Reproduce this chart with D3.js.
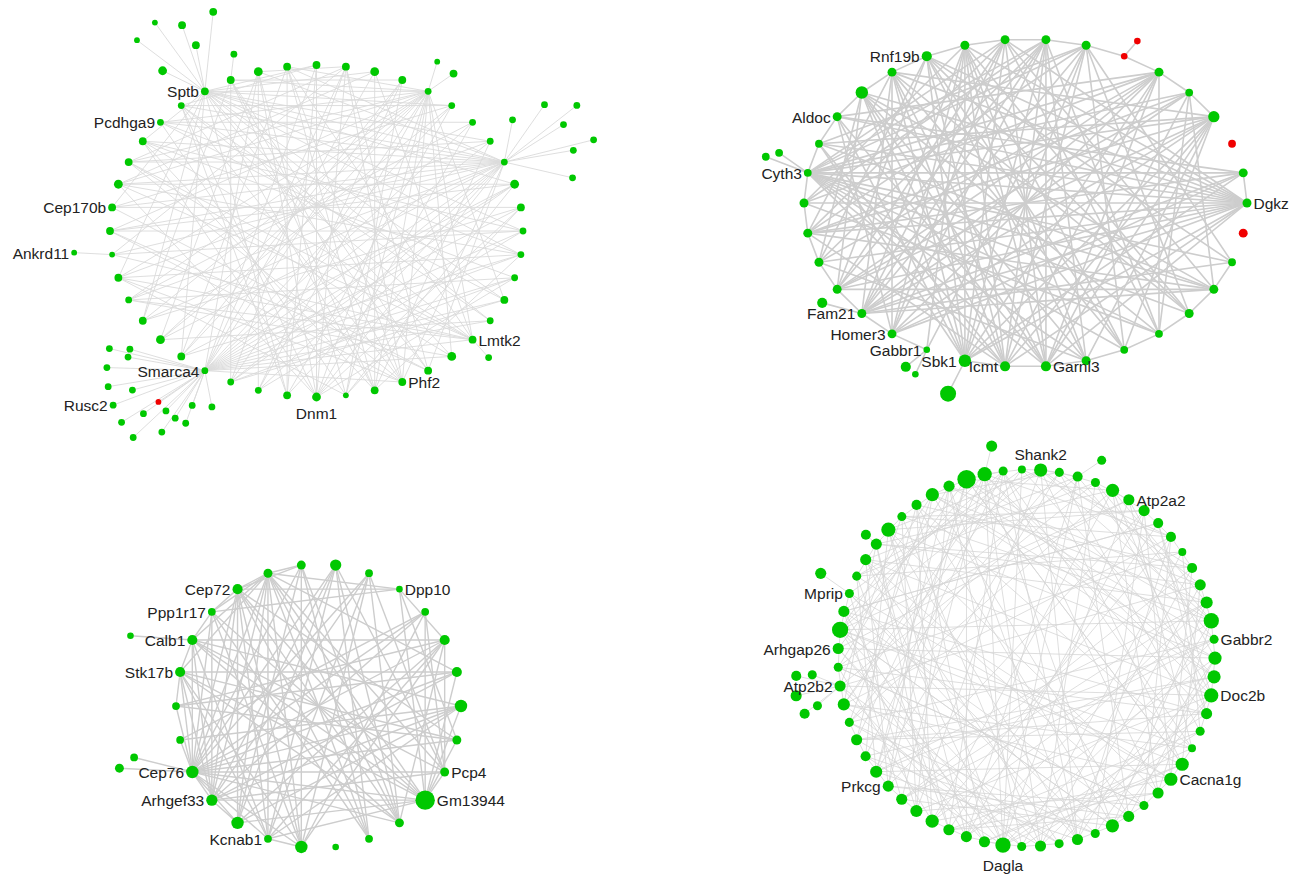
<!DOCTYPE html>
<html>
<head>
<meta charset="utf-8">
<script src="https://cdn.jsdelivr.net/npm/d3@7"></script>
<style>
  html, body { margin: 0; padding: 0; background: #fff; }
  svg { display: block; }
</style>
</head>
<body>
<svg id="chart"></svg>
<script>
// ---------------- data ----------------
// Node size levels around each ring (clockwise), satellites as [parent, level, colour, name],
// named ring nodes as [index, name], and links as "node: neighbours".

// Module 1
const net1Sizes = [3,3,4,3,2,2,2,2,2,4, 3,2,2,2,3,2,3,4,3,3, 3,1,4,3,2,2,2,3,4,3, 2,3,1,3,3,4,3,3,2,2, 3,3,4,3];
const net1Red = [];
const net1Names = [[40,"Sptb"],[38,"Pcdhga9"],[34,"Cep170b"],[26,"Smarca4"],[22,"Dnm1"],[19,"Phf2"],[16,"Lmtk2"]];
const net1Sats = [
  [40,4],[40,3],[40,3],[40,1],[40,1],[40,3],
  [41,2],
  [4,1],[4,3],
  [8,2],[8,2],[8,2],[8,2],[8,2],[8,2],[8,2],
  [32,1,"g","Ankrd11"],
  [16,2],
  [26,2],[26,2],
  [26,2],[26,2],[26,2],[26,1,"r"],
  [26,2],[26,2],[26,2],
  [26,2],[26,2],
  [26,2],[26,2],[26,2,"g","Rusc2"],[26,2],[26,2],[26,2]
];
const net1Links = [
  "40: 0 2 4 5 7 8 9 11 12 14 15 17 18 20 23 27 29 31 34 37",
  "4: 14 16 17 19 20 21 22 24 25 27 28 29 30 31 33 35 36 38 41 43",
  "8: 18 19 22 23 24 25 26 28 29 30 32 33 34 35 36 37 38 39 42 43",
  "26: 0 1 2 3 5 6 7 9 10 11 12 13 14 15 16 17 19 42",
  "16: 30 31 32 35 36 37 39 43 2",
  "19: 31 33 36 39 41 43 1",
  "22: 0 1 35 37 39 42 10",
  "20: 2 37 41 12 43 7",
  "1: 25 42 18 36 32",
  "3: 24 41 21 27",
  "5: 28 39 23 34",
  "6: 30 38 22",
  "7: 31 36",
  "9: 33 35 21 27 25",
  "10: 34 21 29",
  "11: 32 33 24 37",
  "12: 35 31 27 38",
  "13: 37 30 25 22",
  "14: 38 25",
  "15: 39 28",
  "17: 30 36",
  "18: 41 33 34",
  "21: 42 31 38",
  "23: 43 39 0",
  "24: 42", "25: 41", "27: 43", "28: 42", "29: 41", "2: 35", "0: 39"
];

// Module 2
const net2Sizes = [3,3,2,3,3,2,2,3,4,4, 6,1,3,3,3,3,3,3,2,2, 3,6,3,4,3,3,3,3,1,3, 2,5,2,3];
const net2Red = [1, 28, 32];
const net2Names = [[0,"Dgkz"],[8,"Garnl3"],[9,"Icmt"],[10,"Sbk1"],[11,"Gabbr1"],[12,"Homer3"],[13,"Fam21"],[18,"Cyth3"],[20,"Aldoc"],[23,"Rnf19b"]];
const net2Sats = [[18,2],[18,2],[28,1,"r"],[13,4],[11,1],[11,4],[10,9]];
const net2Links = [
  "18: 0 2 3 4 5 6 7 8 9 26 27 29 30 31 33 25",
  "0: 12 13 14 15 16 17 19 20 21 22 23 24 25 9 10 8",
  "31: 6 7 8 9 10 12 13 14 16 19 22",
  "13: 24 25 26 27 29 30 33 2 3 22",
  "14: 21 23 25 26 29 30 3",
  "10: 19 20 21 22 23 24 25 26 27 29 33",
  "9: 19 21 22 23 24 26 27 29 16",
  "8: 20 21 22 24 25 26 29 30",
  "7: 21 23 24 26 15",
  "12: 20 22 24 26 29 33",
  "23: 2 4 6 15",
  "25: 3 5 12 16",
  "26: 5 15 17",
  "24: 4 6 11 17",
  "21: 3 5 15",
  "22: 4 6 16",
  "29: 5 15 17 20",
  "30: 3 5 16",
  "27: 2 4 6 11 16 19",
  "3: 16 19", "5: 17", "33: 16 20",
  "20: 21", "21: 22", "22: 23", "23: 24", "24: 25", "25: 26", "26: 27", "27: 28", "28: 29",
  "29: 30", "30: 31", "33: 0", "2: 3", "3: 4", "4: 5", "5: 6", "6: 7", "7: 8", "8: 9", "9: 10",
  "11: 12", "12: 13", "13: 14", "14: 15", "15: 16", "16: 17", "17: 18", "18: 19", "19: 20"
];

// Module 3
const net3Sizes = [5,2,1,2,4,4,6,3,3,12, 3,2,1,6,2,6,5,6,2,2, 4,4,2,4,3,3];
const net3Red = [];
const net3Names = [[2,"Dpp10"],[8,"Pcp4"],[9,"Gm13944"],[14,"Kcnab1"],[16,"Arhgef33"],[17,"Cep76"],[20,"Stk17b"],[21,"Calb1"],[22,"Ppp1r17"],[23,"Cep72"]];
const net3Sats = [[21,1],[17,2],[17,3]];
const net3Links = [
  "17: 0 1 3 4 5 6 7 8 9 10 13 14 15 16 18 19 20 21 22 23 24 25",
  "24: 2 5 8 9 10 11 13 14 15 16 20 21 22 23 25",
  "23: 2 7 9 10 11 13 14 15 16 22 25",
  "21: 4 6 8 9 10 14 16 20 22",
  "20: 5 7 9 10 13 14 16 19",
  "22: 2 9 11 13 16",
  "16: 0 1 3 5 6 8 9 15",
  "15: 0 4 6 9 25",
  "14: 0 1 4 6 9 13",
  "13: 1 3 4 25",
  "9: 2 3 5 6 7 8",
  "8: 0 1 3 4",
  "2: 4 7",
  "10: 0 1 4 25",
  "11: 0 25",
  "18: 3 6",
  "19: 4 5 7"
];

// Module 4
const net4Sizes = [1,6,2,3,2,6,4,4,3,3, 1,3,4,5,8,2,6,6,7,4, 2,1,6,6,4,2,4,6,2,4,
                   2,4,2,8,4,4,4,6,5,4, 4,5,3,4,2,5,4,2,4,9, 4,2,2,4,4,7,2,3,6,4, 11,7,2];
const net4Red = [];
const net4Names = [[1,"Shank2"],[6,"Atp2a2"],[15,"Gabbr2"],[18,"Doc2b"],[23,"Cacna1g"],[33,"Dagla"],[40,"Prkcg"],[46,"Atp2b2"],[48,"Arhgap26"],[51,"Mprip"]];
const net4Sats = [[61,4],[3,2],[51,4],[54,3],[46,2],[46,2],[46,3],[46,4],[46,3]];
const net4Links = [
  "0: 17 33 45 9 1", "1: 14 22 29 38 49 55 11 2 3", "2: 20 41 58 12 4", "3: 26 35 47 15",
  "4: 18 31 52 14 6", "5: 13 24 37 44 60 19 7", "6: 21 33 49 16", "7: 28 40 56 23 9",
  "8: 19 36 50 18", "9: 25 45 61 29 11", "10: 32 47 20", "11: 23 39 54 31",
  "12: 30 46 59 22 14", "13: 27 41 53 35", "14: 29 37 49 60 24 16", "15: 33 44 39",
  "16: 26 35 48 55 28 18", "17: 31 42 58 43", "18: 27 38 46 53 61 30 20", "19: 33 50 47",
  "20: 36 43 32", "21: 34 57 49 23", "22: 33 41 49 60 34", "23: 37 45 52 51 25",
  "24: 38 55 36", "25: 40 47 53 27", "26: 36 50 58 40", "27: 39 49 61 57 29",
  "28: 42 51 44", "29: 41 55 62 59", "30: 44 53 46 32", "31: 43 49 56 61",
  "32: 45 59 48 34", "33: 42 48 55 61 3 35", "34: 46 57 50", "35: 49 60 7 37",
  "36: 52 62 54", "37: 47 54 9", "38: 51 59 56 40", "39: 50 61 13",
  "40: 53 58 60 42", "41: 52 60 15", "42: 55 62 44", "43: 57 19", "44: 58 2",
  "45: 54 62 21 47", "46: 56 4", "47: 59 25 49", "48: 60 6", "49: 58 61 27 51",
  "50: 62 8", "51: 0 29", "52: 1 10 54", "53: 3 33", "54: 5 12 56", "55: 7 35",
  "56: 9 14 58", "57: 11 37", "58: 13 16 60", "59: 15 41", "60: 17 22 62",
  "61: 19 43 0", "62: 21 24"
];

// ---------------- layout & style ----------------
const W = 1310, H = 882;
const GREEN = "#00c800", RED = "#f00000";
const LABEL_SIDE = { "Dnm1": "below", "Dagla": "below", "Shank2": "above" };

// ring geometry, size scale, satellite fans: [distance, angleFrom, angleTo, count]
const layouts = [
  { cx: 316.5, cy: 231, rx: 206.5, ry: 166, start: 0, size: [[1, 4], [2.9, 4.4]],
    edge: { color: "#dadada", width: 0.9 },
    fans: {
      40: [[47, -64, -11, 2], [70, -19, -19, 1], [85, -53, -36, 2], [80, 6, 6, 1]],
      41: [[26, 7, 7, 1]],
      4: [[31, 17, 55, 2]],
      8: [[43, 11, 11, 1], [70, 35, 103, 4], [92, 52, 76, 2]],
      32: [[38, -87, -87, 1]],
      16: [[24, 138, 138, 1]],
      26: [[37, 169, 200, 2], [56, 200, 236, 4], [75, 215, 255, 3], [78, 280, 286, 2], [98, 227, 283, 6]]
    } },
  { cx: 1025.5, cy: 203, rx: 221.5, ry: 164, start: 90, size: [[1, 9], [3.3, 8.0]],
    edge: { color: "#cdcdcd", width: 1.6 },
    fans: {
      18: [[35, 305, 305, 1], [45, 291, 291, 1]],
      28: [[20, 41, 41, 1]],
      13: [[41, 285, 285, 1]],
      11: [[27, 205, 231, 2]],
      10: [[37, 207, 207, 1]]
    } },
  { cx: 318.5, cy: 706, rx: 142.5, ry: 142, start: 6.92, size: [[1, 12], [3.3, 9.7]],
    edge: { color: "#cdcdcd", width: 1.4 },
    fans: {
      21: [[62, 274, 274, 1]],
      17: [[60, 284, 284, 1], [73, 273, 273, 1]]
    } },
  { cx: 1026.5, cy: 658, rx: 188.5, ry: 188.5, start: -1.4, size: [[1, 11], [4.0, 9.2]],
    edge: { color: "#d6d6d6", width: 0.8 },
    fans: {
      61: [[29, 14, 14, 1]],
      3: [[29, 56, 56, 1]],
      51: [[35, 305, 305, 1]],
      54: [[14, 312, 312, 1]],
      46: [[30, 229, 292, 2], [45, 232, 283, 3]]
    } }
];

const networks = [
  { sizes: net1Sizes, red: net1Red, names: net1Names, sats: net1Sats, links: net1Links },
  { sizes: net2Sizes, red: net2Red, names: net2Names, sats: net2Sats, links: net2Links },
  { sizes: net3Sizes, red: net3Red, names: net3Names, sats: net3Sats, links: net3Links },
  { sizes: net4Sizes, red: net4Red, names: net4Names, sats: net4Sats, links: net4Links }
];

// ---------------- drawing ----------------
const svg = d3.select("#chart").attr("width", W).attr("height", H);
svg.append("rect").attr("width", W).attr("height", H).attr("fill", "#fff");

function parseLinks(lines) {
  const out = [];
  lines.forEach(line => {
    const [src, rest] = line.split(":");
    rest.trim().split(/\s+/).forEach(t => out.push([+src, +t]));
  });
  return out;
}

function layoutNetwork(net, lay) {
  const n = net.sizes.length;
  const toRad = Math.PI / 180;
  const angle = d3.scaleLinear().domain([0, n]).range([lay.start, lay.start + 360]);
  const radius = d3.scaleLinear().domain(lay.size[0]).range(lay.size[1]);
  const ring = net.sizes.map((v, i) => {
    const a = angle(i) * toRad;
    return { x: lay.cx + lay.rx * Math.sin(a), y: lay.cy - lay.ry * Math.cos(a),
             r: radius(v), red: net.red.includes(i), name: null };
  });
  net.names.forEach(([i, t]) => { ring[i].name = t; });

  const slots = {};
  Object.entries(lay.fans).forEach(([p, rows]) => {
    slots[p] = [];
    rows.forEach(([dist, a0, a1, k]) => {
      const fan = d3.scaleLinear().domain([0, Math.max(k - 1, 1)]).range([a0, a1]);
      d3.range(k).forEach(j => slots[p].push({ dist, a: fan(j) }));
    });
  });
  const sats = net.sats.map(([p, v, col, name]) => {
    const s = slots[p].shift();
    const par = ring[p];
    const a = s.a * toRad;
    return { x: par.x + s.dist * Math.sin(a), y: par.y - s.dist * Math.cos(a),
             r: radius(v), red: col === "r", name: name || null, parent: par };
  });
  const links = parseLinks(net.links).map(([a, b]) => [ring[a], ring[b]])
    .concat(sats.map(s => [s.parent, s]));
  return { nodes: ring.concat(sats), links };
}

networks.forEach((net, k) => {
  const lay = layouts[k];
  const { nodes, links } = layoutNetwork(net, lay);
  const g = svg.append("g").attr("class", "module module-" + (k + 1));

  g.append("g").attr("class", "links")
    .selectAll("line").data(links).join("line")
    .attr("x1", d => d[0].x).attr("y1", d => d[0].y)
    .attr("x2", d => d[1].x).attr("y2", d => d[1].y)
    .attr("stroke", lay.edge.color)
    .attr("stroke-width", lay.edge.width)
    .attr("stroke-linecap", "round");

  g.append("g").attr("class", "nodes")
    .selectAll("circle").data(nodes).join("circle")
    .attr("cx", d => d.x).attr("cy", d => d.y).attr("r", d => d.r)
    .attr("fill", d => d.red ? RED : GREEN);

  g.append("g").attr("class", "labels")
    .selectAll("text").data(nodes.filter(d => d.name)).join("text")
    .each(function (d) {
      const side = LABEL_SIDE[d.name] || (d.x < lay.cx ? "left" : "right");
      const t = d3.select(this);
      if (side === "left") {
        t.attr("x", d.x - d.r - 2).attr("y", d.y + 6).attr("text-anchor", "end");
      } else if (side === "right") {
        t.attr("x", d.x + d.r + 2).attr("y", d.y + 6).attr("text-anchor", "start");
      } else if (side === "below") {
        t.attr("x", d.x).attr("y", d.y + d.r + 18).attr("text-anchor", "middle");
      } else {
        t.attr("x", d.x).attr("y", d.y - d.r - 3).attr("text-anchor", "middle");
      }
    })
    .attr("font-family", "'Liberation Sans', Arial, sans-serif")
    .attr("font-size", "15.5px")
    .attr("fill", "#222")
    .text(d => d.name);
});
</script>
</body>
</html>
